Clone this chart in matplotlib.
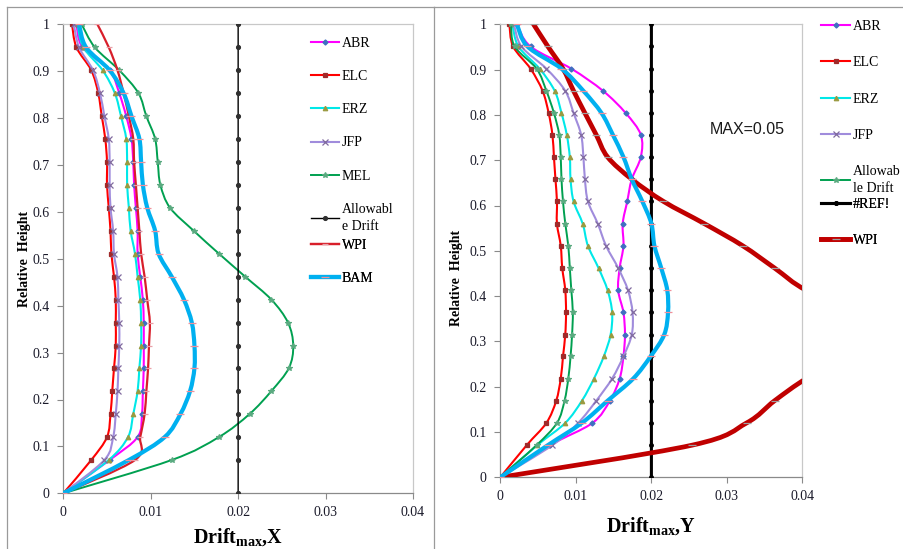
import numpy as np
import matplotlib
matplotlib.use("Agg")
import matplotlib.pyplot as plt
from matplotlib.path import Path
from matplotlib.patches import PathPatch
from matplotlib.lines import Line2D

plt.rcParams['font.family'] = ['Liberation Serif', 'DejaVu Serif']
plt.rcParams['mathtext.fontset'] = 'custom'
plt.rcParams['mathtext.rm'] = 'Liberation Serif'
plt.rcParams['mathtext.bf'] = 'Liberation Serif:bold'
plt.rcParams['mathtext.it'] = 'Liberation Serif:italic'

# ---------------- data ----------------
HEIGHTS = [0, 0.071, 0.120, 0.169, 0.218, 0.267, 0.315, 0.364, 0.413, 0.462, 0.511,
           0.560, 0.609, 0.658, 0.707, 0.756, 0.804, 0.853, 0.902, 0.951, 1.0]

# Left panel: Drift_max, X
ABR_X = [0, 0.0053, 0.0085, 0.0090, 0.0091, 0.0092, 0.0092, 0.0092, 0.0091, 0.0088, 0.0085,
         0.0085, 0.0083, 0.0081, 0.0080, 0.0078, 0.0072, 0.0064, 0.0053, 0.0022, 0.0015]
ELC_X = [0, 0.0032, 0.0050, 0.0054, 0.0056, 0.0058, 0.0060, 0.0060, 0.0060, 0.0058, 0.0055,
         0.0054, 0.0052, 0.0050, 0.0050, 0.0048, 0.0044, 0.0040, 0.0032, 0.0015, 0.0010]
ERZ_X = [0, 0.0052, 0.0074, 0.0080, 0.0085, 0.0087, 0.0089, 0.0089, 0.0088, 0.0085, 0.0082,
         0.0077, 0.0075, 0.0073, 0.0073, 0.0072, 0.0066, 0.0059, 0.0045, 0.0023, 0.0016]
JFP_X = [0, 0.0047, 0.0057, 0.0060, 0.0062, 0.0063, 0.0064, 0.0064, 0.0063, 0.0062, 0.0058,
         0.0057, 0.0054, 0.0053, 0.0053, 0.0052, 0.0047, 0.0042, 0.0034, 0.0018, 0.0012]
MEL_X = [0, 0.0124, 0.0178, 0.0213, 0.0238, 0.0258, 0.0263, 0.0257, 0.0238, 0.0208, 0.0178,
         0.0149, 0.0122, 0.0111, 0.0108, 0.0105, 0.0095, 0.0086, 0.0064, 0.0036, 0.0021]
ALLOW_X = [0.02, 0.02, 0.02, 0.02, 0.02, 0.02, 0.02, 0.02, 0.02, 0.02, 0.02,
           0.02, 0.02, 0.02, 0.02, 0.02, 0.02, 0.02, 0.02, 0.02, 0.02]
WPI_X = [0, 0.0082, 0.0088, 0.0093, 0.0095, 0.0097, 0.0098, 0.0099, 0.0096, 0.0093, 0.0089,
         0.0087, 0.0085, 0.0083, 0.0081, 0.0080, 0.0075, 0.0069, 0.0062, 0.0052, 0.0039]
BAM_X = [0, 0.0075, 0.0116, 0.0134, 0.0145, 0.0150, 0.0150, 0.0147, 0.0138, 0.0124, 0.0109,
         0.0105, 0.0096, 0.0091, 0.0089, 0.0087, 0.0078, 0.0069, 0.0053, 0.0026, 0.0018]

# Right panel: Drift_max, Y
ABR_Y = [0, 0.0066, 0.0122, 0.0145, 0.0158, 0.0163, 0.0165, 0.0163, 0.0156, 0.0158, 0.0163,
         0.0162, 0.0168, 0.0174, 0.0186, 0.0186, 0.0166, 0.0136, 0.0094, 0.0040, 0.0022]
ELC_Y = [0, 0.0035, 0.0061, 0.0074, 0.0080, 0.0083, 0.0086, 0.0087, 0.0086, 0.0082, 0.0080,
         0.0075, 0.0075, 0.0073, 0.0071, 0.0069, 0.0064, 0.0056, 0.0040, 0.0017, 0.0012]
ERZ_Y = [0, 0.0049, 0.0086, 0.0108, 0.0124, 0.0137, 0.0146, 0.0148, 0.0142, 0.0130, 0.0116,
         0.0109, 0.0097, 0.0093, 0.0092, 0.0088, 0.0081, 0.0072, 0.0052, 0.0024, 0.0016]
JFP_Y = [0, 0.0069, 0.0103, 0.0127, 0.0148, 0.0163, 0.0174, 0.0175, 0.0169, 0.0156, 0.0140,
         0.0129, 0.0116, 0.0112, 0.0110, 0.0107, 0.0097, 0.0086, 0.0061, 0.0028, 0.0018]
MEL_Y = [0, 0.0048, 0.0075, 0.0085, 0.0090, 0.0093, 0.0095, 0.0096, 0.0094, 0.0092, 0.0090,
         0.0086, 0.0083, 0.0081, 0.0080, 0.0078, 0.0071, 0.0061, 0.0048, 0.0019, 0.0014]
REF_Y = [0.02, 0.02, 0.02, 0.02, 0.02, 0.02, 0.02, 0.02, 0.02, 0.02, 0.02,
         0.02, 0.02, 0.02, 0.02, 0.02, 0.02, 0.02, 0.02, 0.02, 0.02]
WPI_Y = [0, 0.0254, 0.0326, 0.0363, 0.0405, 0.0460, 0.0500, 0.0480, 0.0405, 0.0363, 0.0321,
         0.0270, 0.0216, 0.0174, 0.0142, 0.0127, 0.0112, 0.0097, 0.0083, 0.0063, 0.0044]
BAM_Y = [0, 0.0063, 0.0108, 0.0142, 0.0176, 0.0199, 0.0217, 0.0222, 0.0221, 0.0213, 0.0204,
         0.0200, 0.0188, 0.0174, 0.0163, 0.0149, 0.0134, 0.0110, 0.0081, 0.0036, 0.0022]

X_TICKS = [0, 0.01, 0.02, 0.03, 0.04]
X_TICK_LABELS = ["0", "0.01", "0.02", "0.03", "0.04"]
Y_TICKS = [0, 0.1, 0.2, 0.3, 0.4, 0.5, 0.6, 0.7, 0.8, 0.9, 1.0]
Y_TICK_LABELS = ["0", "0.1", "0.2", "0.3", "0.4", "0.5", "0.6", "0.7", "0.8", "0.9", "1"]

# ---------------- styles ----------------
ST = {
    'ABR': dict(color='#FF00FF', lw=1.5, marker='D', ms=2.6, mc='#3F6FC0'),
    'ELC': dict(color='#FF0000', lw=1.5, marker='s', ms=2.6, mc='#A02A2A'),
    'ERZ': dict(color='#00E8E8', lw=1.5, marker='^', ms=3.2, mc='#9A9A40'),
    'JFP': dict(color='#A08CDC', lw=1.5, marker='x', ms=4.0, mc='#806A9E'),
    'MEL': dict(color='#00A050', lw=1.4, marker='*', ms=4.0, mc='#5AAA80'),
    'ALW': dict(color='#000000', lw=1.0, marker='o', ms=2.8, mc='#303030'),
    'WPIL': dict(color='#D81E2A', lw=1.6, marker='_', ms=5.0, mc='#E8A0A8'),
    'BAM': dict(color='#00B0F0', lw=3.0, marker='_', ms=6.0, mc='#F0909A'),
    'REF': dict(color='#000000', lw=2.2, marker='o', ms=2.6, mc='#000000'),
    'WPIR': dict(color='#C00000', lw=3.4, marker='_', ms=6.0, mc='#A0A0A0'),
}


def smooth_path(xs, ys):
    pts = np.column_stack([xs, ys]).astype(float)
    n = len(pts)
    verts = [pts[0]]
    codes = [Path.MOVETO]
    for i in range(n - 1):
        p0 = pts[i - 1] if i > 0 else pts[i]
        p1 = pts[i]
        p2 = pts[i + 1]
        p3 = pts[i + 2] if i + 2 < n else pts[i + 1]
        verts += [p1 + (p2 - p0) / 6.0, p2 - (p3 - p1) / 6.0, p2]
        codes += [Path.CURVE4] * 3
    return Path(verts, codes)


def draw_series(ax, xs, ys, st, z):
    patch = PathPatch(smooth_path(xs, ys), facecolor='none', edgecolor=st['color'],
                      lw=st['lw'], zorder=z, joinstyle='round', capstyle='round',
                      transform=ax.transData)
    ax.add_patch(patch)
    ax.plot(xs, ys, ls='none', marker=st['marker'], ms=st['ms'], mfc=st['mc'],
            mec=st['mc'], mew=0.9, zorder=z + 0.1)


def handle(st):
    return Line2D([], [], color=st['color'], lw=st['lw'], marker=st['marker'],
                  ms=st['ms'], mfc=st['mc'], mec=st['mc'], mew=0.9)


def style_axes(ax):
    ax.set_xlim(0, 0.04)
    ax.set_ylim(0, 1)
    ax.set_xticks(X_TICKS)
    ax.set_xticklabels(X_TICK_LABELS)
    ax.set_yticks(Y_TICKS)
    ax.set_yticklabels(Y_TICK_LABELS)
    for s in ['left', 'bottom']:
        ax.spines[s].set_color('#8A8A8A')
        ax.spines[s].set_linewidth(0.9)
    for s in ['top', 'right']:
        ax.spines[s].set_color('#C8C8C8')
        ax.spines[s].set_linewidth(0.9)
    ax.tick_params(direction='out', length=4, width=0.8, color='#8A8A8A',
                   labelsize=10, labelcolor='#1A1A2A')
    ax.tick_params(axis='y', pad=6)
    ax.tick_params(axis='x', pad=5)


W, H = 904, 549
fig = plt.figure(figsize=(W / 100, H / 100), dpi=100)


def fx(px):
    return px / W


def fy(py):
    return 1 - py / H


def add_legend(ax, entries, x_px, top_px, spacing, hl):
    leg = ax.legend([handle(ST[k]) for _, k, _ in entries],
                    [lab for _, _, lab in entries],
                    loc='upper left', bbox_to_anchor=(fx(x_px), fy(top_px)),
                    bbox_transform=fig.transFigure, frameon=False, fontsize=10,
                    handlelength=hl, handletextpad=0.2, labelspacing=spacing,
                    borderpad=0, borderaxespad=0)
    for t in leg.get_texts():
        t.set_linespacing(1.4)
    ax.add_artist(leg)
    return leg


# chart-area borders
border = '#9A9A9A'
fig.add_artist(Line2D([fx(7), fx(7)], [fy(7), fy(549)], color=border, lw=0.9, transform=fig.transFigure))
fig.add_artist(Line2D([fx(7), fx(434)], [fy(7), fy(7)], color=border, lw=0.9, transform=fig.transFigure))
fig.add_artist(Line2D([fx(434), fx(434)], [fy(7), fy(549)], color=border, lw=0.9, transform=fig.transFigure))
fig.add_artist(Line2D([fx(434), fx(904)], [fy(7), fy(7)], color=border, lw=0.9, transform=fig.transFigure))

# ---------------- left panel ----------------
axL = fig.add_axes([fx(63.3), fy(493.3), fx(413 - 63.3), (493.3 - 24.3) / H])
style_axes(axL)
left_series = [
    (ABR_X, 'ABR', 'ABR'), (ELC_X, 'ELC', 'ELC'), (ERZ_X, 'ERZ', 'ERZ'),
    (JFP_X, 'JFP', 'JFP'), (MEL_X, 'MEL', 'MEL'), (ALLOW_X, 'ALW', 'Allowabl\ne Drift'),
    (WPI_X, 'WPIL', 'WPI'), (BAM_X, 'BAM', 'BAM'),
]
for i, (xs, key, lab) in enumerate(left_series):
    draw_series(axL, xs, HEIGHTS, ST[key], 2 + i)
add_legend(axL, left_series[:6], 311, 37, 1.45, 2.0)
add_legend(axL, left_series[6:], 311, 239, 1.45, 2.0)
axL.set_xlabel(r'Drift$_{\mathbf{max}}$,X', fontsize=14.5, fontweight='bold', labelpad=5)
axL.set_ylabel('Relative  Height', fontsize=10, fontweight='bold')
axL.yaxis.set_label_coords(-0.092, 0.5)

# ---------------- right panel ----------------
axR = fig.add_axes([fx(500.3), fy(477.3), fx(802.5 - 500.3), (477.3 - 24.3) / H])
style_axes(axR)
right_series = [
    (ABR_Y, 'ABR', 'ABR'), (ELC_Y, 'ELC', 'ELC'), (ERZ_Y, 'ERZ', 'ERZ'),
    (JFP_Y, 'JFP', 'JFP'), (MEL_Y, 'MEL', 'Allowab\nle Drift'), (REF_Y, 'REF', '#REF!'),
    (WPI_Y, 'WPIR', 'WPI'),
]
for i, (xs, key, lab) in enumerate(right_series):
    draw_series(axR, xs, HEIGHTS, ST[key], 2 + i)
draw_series(axR, BAM_Y, HEIGHTS, ST['BAM'], 10)
add_legend(axR, right_series[:5], 821, 20, 1.68, 2.1)
add_legend(axR, right_series[5:], 821, 198, 1.68, 2.1)
axR.text(0.0277, 0.767, 'MAX=0.05', fontsize=11.5, family='Liberation Sans',
         ha='left', va='center', color='#1A1A1A')
axR.set_xlabel(r'Drift$_{\mathbf{max}}$,Y', fontsize=14.5, fontweight='bold', labelpad=9)
axR.set_ylabel('Relative  Height', fontsize=10, fontweight='bold')
axR.yaxis.set_label_coords(-0.124, 0.44)

fig.savefig('out.png', dpi=100)
